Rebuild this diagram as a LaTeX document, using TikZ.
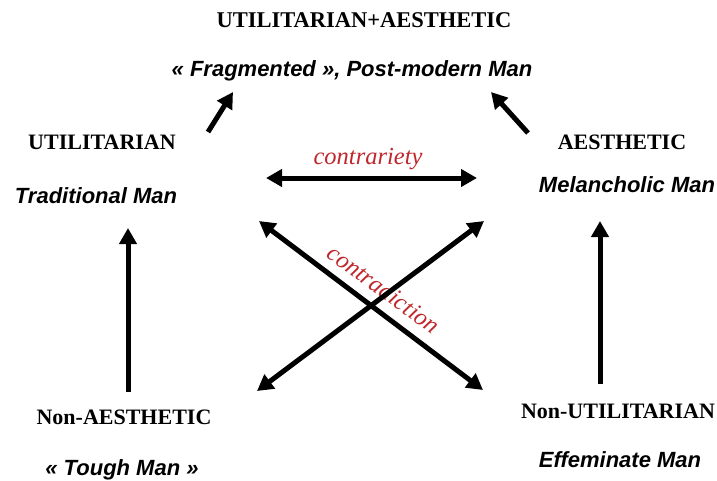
\documentclass[tikz,border=0pt]{standalone}
\usepackage{fontspec}
\setmainfont{Liberation Serif}
\newfontfamily\arfont{Liberation Sans}
\usetikzlibrary{arrows.meta}
\definecolor{redlab}{RGB}{190,40,45}
\tikzset{
  head/.style={inner sep=0pt, anchor=base, font=\fontsize{22}{24}\selectfont\bfseries},
  sub/.style={inner sep=0pt, anchor=base, font=\fontsize{22}{26}\selectfont\arfont\bfseries\itshape},
  rel/.style={inner sep=0pt, anchor=base, text=redlab, font=\fontsize{24.5}{28}\selectfont\itshape},
  arr/.style={line width=5pt, -{Triangle[length=16pt,width=17pt]}},
  darr/.style={line width=5pt, {Triangle[length=16pt,width=17pt]}-{Triangle[length=16pt,width=17pt]}}
}
\begin{document}
\begin{tikzpicture}[x=1pt,y=-1pt]
\useasboundingbox (0,0) rectangle (717,480);
% texts
\node[head, font=\fontsize{22.5}{24}\selectfont\bfseries] (ua) at (364,27) {UTILITARIAN+AESTHETIC};
\node[sub] (fm) at (352,76) {« Fragmented », Post-modern Man};
\node[head] (u) at (102,149) {UTILITARIAN};
\node[sub] (tm) at (96,203) {Traditional Man};
\node[head] (a) at (622,149) {AESTHETIC};
\node[sub] (mm) at (627,192) {Melancholic Man};
\node[head] (na) at (124,424) {Non-AESTHETIC};
\node[sub] (th) at (122,475) {« Tough Man »};
\node[head] (nu) at (618,418) {Non-UTILITARIAN};
\node[sub] (em) at (620,467) {Effeminate Man};
\node[rel] (cy) at (368,164) {contrariety};
\node[rel, rotate=-36, anchor=center] (cn) at (384,289) {contradiction};
% arrow end points
\coordinate (t1) at (208,132);
\coordinate (h1) at (233,92);
\coordinate (t2) at (528,133);
\coordinate (h2) at (491,92);
\coordinate (cl) at (266,178);
\coordinate (cr) at (477,178);
\coordinate (xa) at (259,221);
\coordinate (xb) at (483,390);
\coordinate (ya) at (484,221);
\coordinate (yb) at (257,391);
\coordinate (lb) at (128,392);
\coordinate (lt) at (128,228);
\coordinate (rb) at (600,384);
\coordinate (rt) at (600,221);
% arrows
\draw[arr] (t1) -- (h1);
\draw[arr] (t2) -- (h2);
\draw[darr] (cl) -- (cr);
\draw[darr] (xa) -- (xb);
\draw[darr] (ya) -- (yb);
\draw[arr] (lb) -- (lt);
\draw[arr] (rb) -- (rt);
\end{tikzpicture}
\end{document}
